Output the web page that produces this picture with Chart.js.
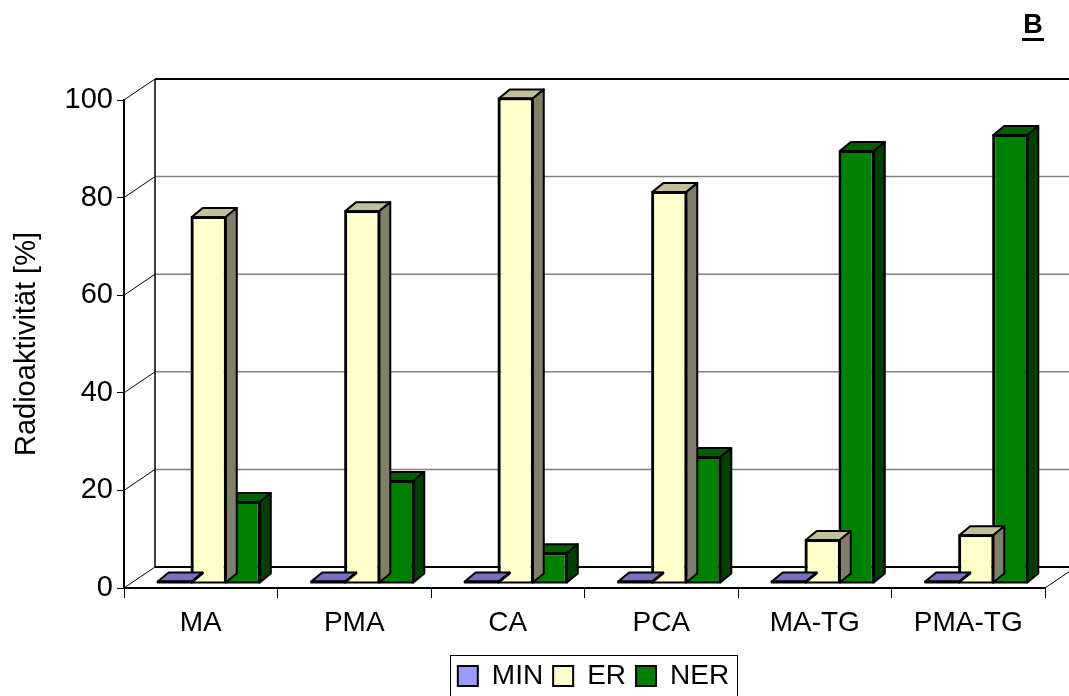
<!DOCTYPE html>
<html>
<head>
<meta charset="utf-8">
<script src="https://cdn.jsdelivr.net/npm/chart.js@4.4.1/dist/chart.umd.min.js"></script>
<style>
  html, body { margin: 0; padding: 0; background: #fff; }
  #wrap { width: 1069px; height: 696px; }
</style>
</head>
<body>
<div id="wrap"><canvas id="chart"></canvas></div>
<script>
let categories = ["MA", "PMA", "CA", "PCA", "MA-TG", "PMA-TG"];
let minValues = [0.3, 0.3, 0.3, 0.3, 0.3, 0.3];
let erValues = [75, 76.2, 99.3, 80.1, 8.8, 9.8];
let nerValues = [16.6, 20.9, 6.1, 25.8, 88.5, 91.8];
let yTicks = [0, 20, 40, 60, 80, 100];

const FONT = "'Liberation Sans', Arial, sans-serif";

// 3D look: back wall offset, bar plane offset, bar depth
const WALL_DX = 31, WALL_DY = 21;
const SHIFT_X = 8, SHIFT_Y = 5;
const BAR_DX = 11, BAR_DY = 9;
const LEGEND_SHIFT = 71;

// top / side face colours per dataset
let faceColors = [
  ["#7373BF", "#4D4D80"],
  ["#C0C09A", "#80806A"],
  ["#006000", "#004000"]
];

let depthPlugin = {
  id: "depth3d",
  afterLayout(chart) {
    // legend in the original sits right of centre
    chart.legend.left += LEGEND_SHIFT;
    chart.legend.right += LEGEND_SHIFT;
  },
  beforeDatasetsDraw(chart) {
    let ctx = chart.ctx;
    let a = chart.chartArea;
    let y = chart.scales.y;

    ctx.save();
    for (let v of yTicks) {
      let py = y.getPixelForValue(v);
      // back wall gridline
      ctx.lineWidth = (v === 0 || v === 100) ? 2 : 1.5;
      ctx.strokeStyle = (v === 0 || v === 100) ? "#000" : "#808080";
      ctx.beginPath();
      ctx.moveTo(a.left + WALL_DX, py - WALL_DY);
      ctx.lineTo(chart.width, py - WALL_DY);
      ctx.stroke();
      // side wall diagonal
      ctx.lineWidth = 1;
      ctx.strokeStyle = "#000";
      ctx.beginPath();
      ctx.moveTo(a.left, py);
      ctx.lineTo(a.left + WALL_DX, py - WALL_DY);
      ctx.stroke();
    }
    // back wall left edge
    ctx.lineWidth = 1.5;
    ctx.beginPath();
    ctx.moveTo(a.left + WALL_DX, a.top - WALL_DY);
    ctx.lineTo(a.left + WALL_DX, a.bottom - WALL_DY);
    ctx.stroke();
    // floor right edge
    ctx.lineWidth = 1;
    ctx.beginPath();
    ctx.moveTo(a.right, a.bottom);
    ctx.lineTo(a.right + WALL_DX, a.bottom - WALL_DY);
    ctx.stroke();
    ctx.restore();

    // bars sit a little behind the front plane
    ctx.save();
    ctx.translate(SHIFT_X, -SHIFT_Y);
  },
  afterDatasetDraw(chart, args) {
    let ctx = chart.ctx;
    let cols = faceColors[args.index];
    ctx.save();
    ctx.lineWidth = 2;
    ctx.strokeStyle = "#000";
    ctx.lineJoin = "round";
    for (let el of args.meta.data) {
      let p = el.getProps(["x", "y", "base", "width"], true);
      let l = p.x - p.width / 2, r = p.x + p.width / 2, t = p.y, b = p.base;

      // top face
      ctx.fillStyle = cols[0];
      ctx.beginPath();
      ctx.moveTo(l, t);
      ctx.lineTo(l + BAR_DX, t - BAR_DY);
      ctx.lineTo(r + BAR_DX, t - BAR_DY);
      ctx.lineTo(r, t);
      ctx.closePath();
      ctx.fill();
      ctx.stroke();

      // right side face
      ctx.fillStyle = cols[1];
      ctx.beginPath();
      ctx.moveTo(r, t);
      ctx.lineTo(r + BAR_DX, t - BAR_DY);
      ctx.lineTo(r + BAR_DX, b - BAR_DY);
      ctx.lineTo(r, b);
      ctx.closePath();
      ctx.fill();
      ctx.stroke();

      // front outline
      ctx.strokeRect(l, t, r - l, b - t);
    }
    ctx.restore();
  },
  afterDatasetsDraw(chart) {
    chart.ctx.restore();
  },
  afterDraw(chart) {
    let ctx = chart.ctx;
    ctx.save();
    // frame around the legend
    let boxes = chart.legend.legendHitBoxes;
    if (boxes && boxes.length) {
      let minX = Math.min(...boxes.map(h => h.left));
      let maxX = Math.max(...boxes.map(h => h.left + h.width));
      let top = boxes[0].top;
      let h = boxes[0].height;
      ctx.strokeStyle = "#000";
      ctx.lineWidth = 1;
      ctx.strokeRect(Math.round(minX - 8) + 0.5, Math.round(top - 7) + 0.5, Math.round(maxX - minX + 16), Math.round(h + 14));
    }
    // panel letter
    ctx.fillStyle = "#000";
    ctx.font = "bold 27px " + FONT;
    ctx.textAlign = "center";
    ctx.textBaseline = "alphabetic";
    ctx.fillText("B", 1033, 33);
    ctx.fillRect(1022, 38, 22, 3);
    ctx.restore();
  }
};

let ctx = document.getElementById("chart").getContext("2d");
let chart = new Chart(ctx, {
  type: "bar",
  data: {
    labels: categories,
    datasets: [
      { label: "MIN", data: minValues, backgroundColor: "#9999FF", borderColor: "#000", borderWidth: 2, clip: false },
      { label: "ER", data: erValues, backgroundColor: "#FFFFCC", borderColor: "#000", borderWidth: 2, clip: false },
      { label: "NER", data: nerValues, backgroundColor: "#008000", borderColor: "#000", borderWidth: 2, clip: false }
    ]
  },
  options: {
    responsive: true,
    maintainAspectRatio: false,
    animation: false,
    layout: { padding: { top: 100, right: 24, left: 0, bottom: -4 } },
    datasets: {
      bar: { categoryPercentage: 0.665, barPercentage: 1 }
    },
    scales: {
      x: {
        grid: { drawOnChartArea: false, drawTicks: true, tickLength: 10, color: "#000", offset: true },
        border: { display: true, color: "#000", width: 2 },
        ticks: { color: "#000", font: { family: FONT, size: 28 }, padding: 8, maxRotation: 0 },
        afterFit(scale) { scale.height = 64; }
      },
      y: {
        min: 0,
        max: 100,
        grid: { drawOnChartArea: false, drawTicks: true, tickLength: 7, color: "#000" },
        border: { display: true, color: "#000", width: 2 },
        ticks: { stepSize: 20, color: "#000", font: { family: FONT, size: 29 }, padding: 4 },
        title: {
          display: true,
          text: "Radioaktivität [%]",
          color: "#000",
          font: { family: FONT, size: 29 },
          padding: { top: 10, bottom: 0 }
        },
        afterFit(scale) { scale.width = 124; }
      }
    },
    plugins: {
      legend: {
        position: "bottom",
        labels: {
          color: "#000",
          font: { family: FONT, size: 28 },
          boxWidth: 20,
          boxHeight: 20,
          padding: 10
        }
      },
      tooltip: { enabled: false }
    }
  },
  plugins: [depthPlugin]
});
</script>
</body>
</html>
